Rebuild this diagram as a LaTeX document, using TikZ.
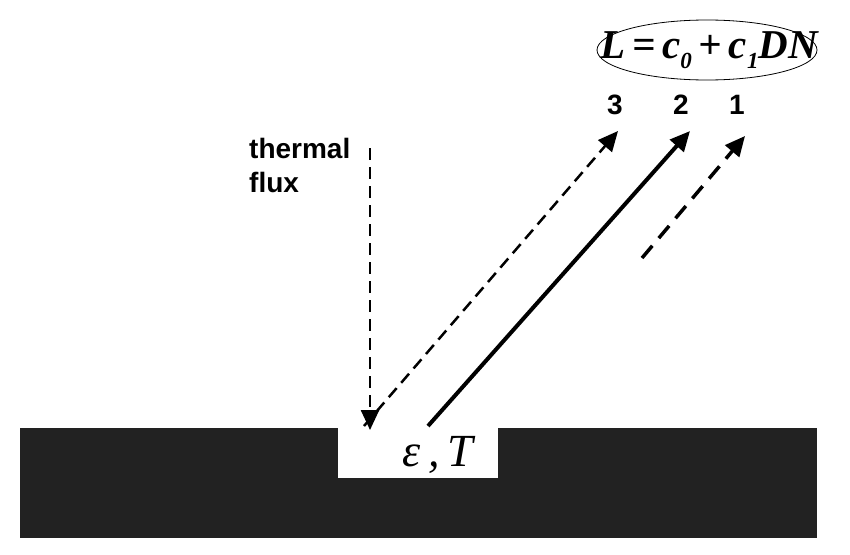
\documentclass[tikz,border=0pt]{standalone}
\usepackage{fontspec}
\setsansfont{Liberation Sans}
\setmainfont{Liberation Serif}
\usetikzlibrary{arrows.meta,shapes.geometric}
\begin{document}
\begin{tikzpicture}[x=1pt,y=-1pt,
  ray/.style={-{Triangle[length=20pt,width=18pt]}},
  lbl/.style={font=\sffamily\bfseries\fontsize{28}{34}\selectfont}]
\useasboundingbox (0,0) rectangle (850,554);
\fill[fill={rgb,255:red,34;green,34;blue,34}] (20,428) rectangle (817,538);
\node[fill=white,minimum width=160pt,minimum height=50pt,inner sep=0pt,anchor=north west] (box) at (338,428) {};
\node (eps) at (438,455) {\fontsize{46}{50}\selectfont\itshape ε\,,\,T};
\node[draw,ellipse,line width=0.8pt,minimum width=220pt,minimum height=60pt,inner sep=0pt] (eq) at (707,50) {};
\node at (709,50) {\fontsize{41}{44}\selectfont\bfseries\itshape L\,=\,c\raisebox{-0.25em}{\fontsize{23}{25}\selectfont 0}\,+\,c\raisebox{-0.25em}{\fontsize{23}{25}\selectfont 1}DN};
\node[lbl,align=left,anchor=north west,inner sep=0pt] (tf) at (249,138) {thermal\\flux};
\node[lbl] (n3) at (615,105) {3};
\node[lbl] (n2) at (681,105) {2};
\node[lbl] (n1) at (737,105) {1};
\coordinate (tfa) at (370,148);
\coordinate (tfb) at (370,430);
\coordinate (r3a) at (364,426);
\coordinate (r3b) at (618,131);
\coordinate (r2a) at (428,426);
\coordinate (r2b) at (690,131);
\coordinate (r1a) at (642,258);
\coordinate (r1b) at (745,136);
\draw[ray,dashed,line width=2.5pt,dash pattern=on 12pt off 7pt] (tfa) -- (tfb);
\draw[ray,dashed,line width=2.5pt,dash pattern=on 12pt off 7pt] (r3a) -- (r3b);
\draw[ray,line width=4pt] (r2a) -- (r2b);
\draw[ray,dashed,line width=3.5pt,dash pattern=on 16pt off 10pt] (r1a) -- (r1b);
\end{tikzpicture}
\end{document}
